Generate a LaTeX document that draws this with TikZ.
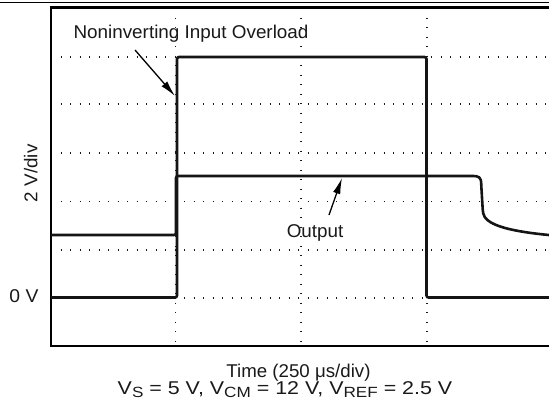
\documentclass[tikz,border=0pt]{standalone}
\usepackage{fontspec}
\usepackage{graphicx}
\usetikzlibrary{arrows.meta}
\newfontfamily\hvfont{Liberation Sans}
\newcommand\lblfont{\hvfont\fontsize{18.5bp}{21bp}\selectfont}
\newcommand\sbx[1]{\raisebox{-0.17em}{\fontsize{14.8bp}{14.8bp}\selectfont #1}}
\begin{document}
\begin{tikzpicture}[x=1bp,y=-1bp,
  gridline/.style={line width=1.4bp,black!90,dash pattern=on 1.4bp off 8.1bp},
  framestyle/.style={line width=2.8bp,black},
  trace/.style={line width=2.6bp,black!92,rounded corners=2bp},
  arr/.style={-{Latex[length=16bp,width=7.5bp]},line width=1.3bp},
  lbl/.style={font=\lblfont,inner sep=0pt,text=black!90}]
\useasboundingbox (0,0) rectangle (549,413);
\clip (0,0) rectangle (549,413);
% top rule
\draw[line width=1.3bp] (0,2.6) -- (549,2.6);
% grid
\foreach \gx in {175.5,301,427} \draw[gridline] (\gx,8) -- (\gx,346);
\foreach \gy in {57,104,153,201.5,250,298} \draw[gridline] (51,\gy) -- (552,\gy);
% frame
\draw[framestyle] (555,7.5) -- (51,7.5) -- (51,346) -- (555,346);
% input trace
\draw[trace] (51,297.5) -- (177,297.5) -- (177,57) -- (426.5,57) -- (426.5,297.5) -- (555,297.5);
% output trace
\draw[trace] (51,235) -- (176,235) -- (176,176) -- (470,176)
  .. controls (479,176) and (481,177) .. (481.3,186) -- (482.8,211)
  .. controls (485,224) and (505,231) .. (552,235.3);
% labels
\node[lbl,anchor=base] (nio) at (191,38.3) {\resizebox{235bp}{\height}{Noninverting Input Overload}};
\node[lbl,anchor=base] (outl) at (315,237) {\resizebox{56.5bp}{\height}{Output}};
\node[lbl,anchor=base] (zero) at (24,302.7) {\resizebox{29bp}{\height}{0 V}};
\node[lbl,anchor=base,rotate=90] (ydiv) at (37.3,173.3) {\resizebox{57.5bp}{\height}{2 V/div}};
\node[lbl,anchor=base] (xdiv) at (298.5,377) {\resizebox{144bp}{\height}{Time (250 μs/div)}};
\node[lbl,anchor=base] (cond) at (285,394.3) {\resizebox{334.5bp}{\height}{V\sbx{S} = 5 V, V\sbx{CM} = 12 V, V\sbx{REF} = 2.5 V}};
% arrows
\coordinate (a1s) at (135,50);
\coordinate (a1e) at (175,96);
\coordinate (a2s) at (329,215);
\coordinate (a2e) at (342,178);
\draw[arr] (a1s) -- (a1e);
\draw[arr] (a2s) -- (a2e);
\end{tikzpicture}
\end{document}
